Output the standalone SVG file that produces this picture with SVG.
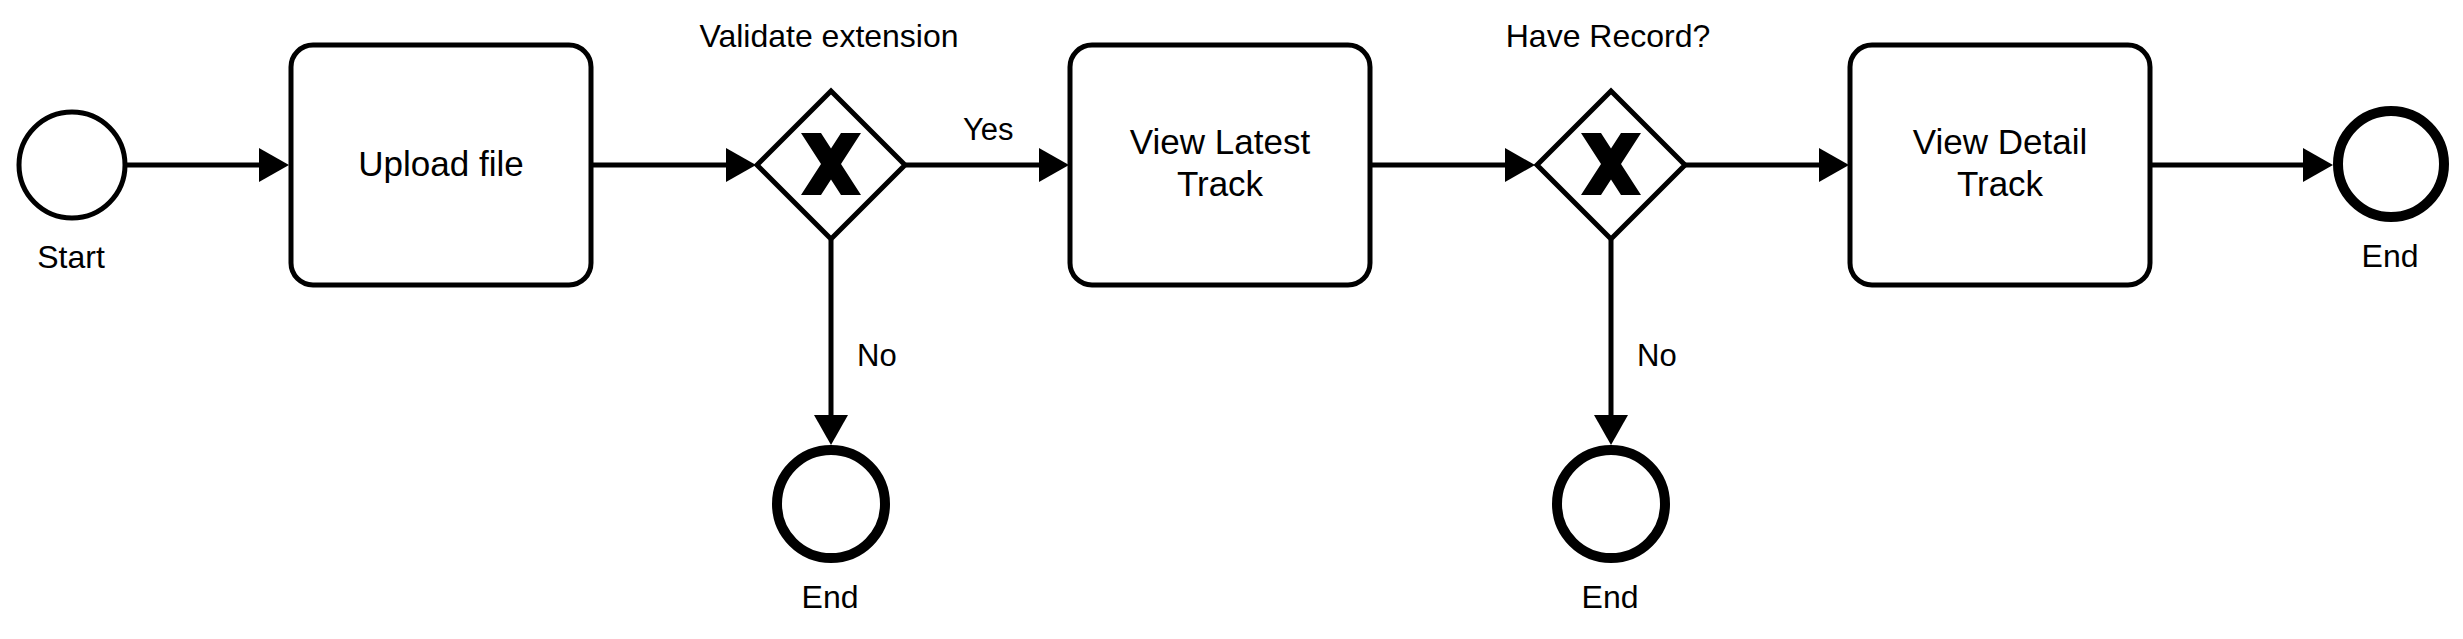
<svg xmlns="http://www.w3.org/2000/svg" width="2463" height="639" viewBox="0 0 2463 639">
<style>
text { font-family: "Liberation Sans", Arial, Helvetica, sans-serif; fill: #000; text-anchor: middle; }
.lbl { font-size: 32px; }
.task-t { font-size: 35px; }
.edge-t { font-size: 31px; text-anchor: start; }
.task { fill: #fff; stroke: #000; stroke-width: 5; }
.gw { fill: #fff; stroke: #000; stroke-width: 5; stroke-linejoin: miter; }
.start { fill: #fff; stroke: #000; stroke-width: 5; }
.end { fill: #fff; stroke: #000; stroke-width: 10; }
.edge { fill: none; stroke: #000; stroke-width: 5; marker-end: url(#arrow); }
</style>
<defs>
<marker id="arrow" markerUnits="userSpaceOnUse" markerWidth="30" markerHeight="34" refX="0" refY="17" orient="auto" viewBox="0 0 30 34">
<path d="M0,0 L30,17 L0,34 Z" fill="#000"/>
</marker>
<path id="xmark" d="M-30,-31 L-10,-31 L0,-15.5 L10,-31 L30,-31 L10,0 L30,31 L10,31 L0,15.5 L-10,31 L-30,31 L-10,0 Z" fill="#000"/>
</defs>
<rect width="2463" height="639" fill="#fff"/>
<g id="connectors">
<path class="edge" d="M126,165 H259"/>
<path class="edge" d="M593,165 H726"/>
<path class="edge" d="M906,165 H1039"/>
<path class="edge" d="M1371,165 H1505"/>
<path class="edge" d="M1685,165 H1819"/>
<path class="edge" d="M2152,165 H2303"/>
<path class="edge" d="M831,240 V415"/>
<path class="edge" d="M1611,240 V415"/>
<text class="edge-t" x="963" y="140">Yes</text>
<text class="edge-t" x="857" y="366">No</text>
<text class="edge-t" x="1637" y="366">No</text>
</g>
<g id="start">
<circle class="start" cx="72" cy="165" r="53"/>
<text class="lbl" x="71" y="268">Start</text>
</g>
<g id="upload">
<rect class="task" x="291" y="45" width="300" height="240" rx="22" ry="22"/>
<text class="task-t" x="441" y="176">Upload file</text>
</g>
<g id="gw-validate">
<polygon class="gw" points="757,165 831,91 905,165 831,239"/>
<use href="#xmark" x="831" y="164"/>
<text class="lbl" x="829" y="47">Validate extension</text>
</g>
<g id="end-1">
<circle class="end" cx="831" cy="504" r="54"/>
<text class="lbl" x="830" y="608">End</text>
</g>
<g id="view-latest">
<rect class="task" x="1070" y="45" width="300" height="240" rx="22" ry="22"/>
<text class="task-t" x="1220" y="154">View Latest</text>
<text class="task-t" x="1220" y="196">Track</text>
</g>
<g id="gw-record">
<polygon class="gw" points="1537,165 1611,91 1685,165 1611,239"/>
<use href="#xmark" x="1611" y="164"/>
<text class="lbl" x="1608" y="47">Have Record?</text>
</g>
<g id="end-2">
<circle class="end" cx="1611" cy="504" r="54"/>
<text class="lbl" x="1610" y="608">End</text>
</g>
<g id="view-detail">
<rect class="task" x="1850" y="45" width="300" height="240" rx="22" ry="22"/>
<text class="task-t" x="2000" y="154">View Detail</text>
<text class="task-t" x="2000" y="196">Track</text>
</g>
<g id="end-3">
<circle class="end" cx="2391" cy="164" r="53"/>
<text class="lbl" x="2390" y="267">End</text>
</g>
</svg>
